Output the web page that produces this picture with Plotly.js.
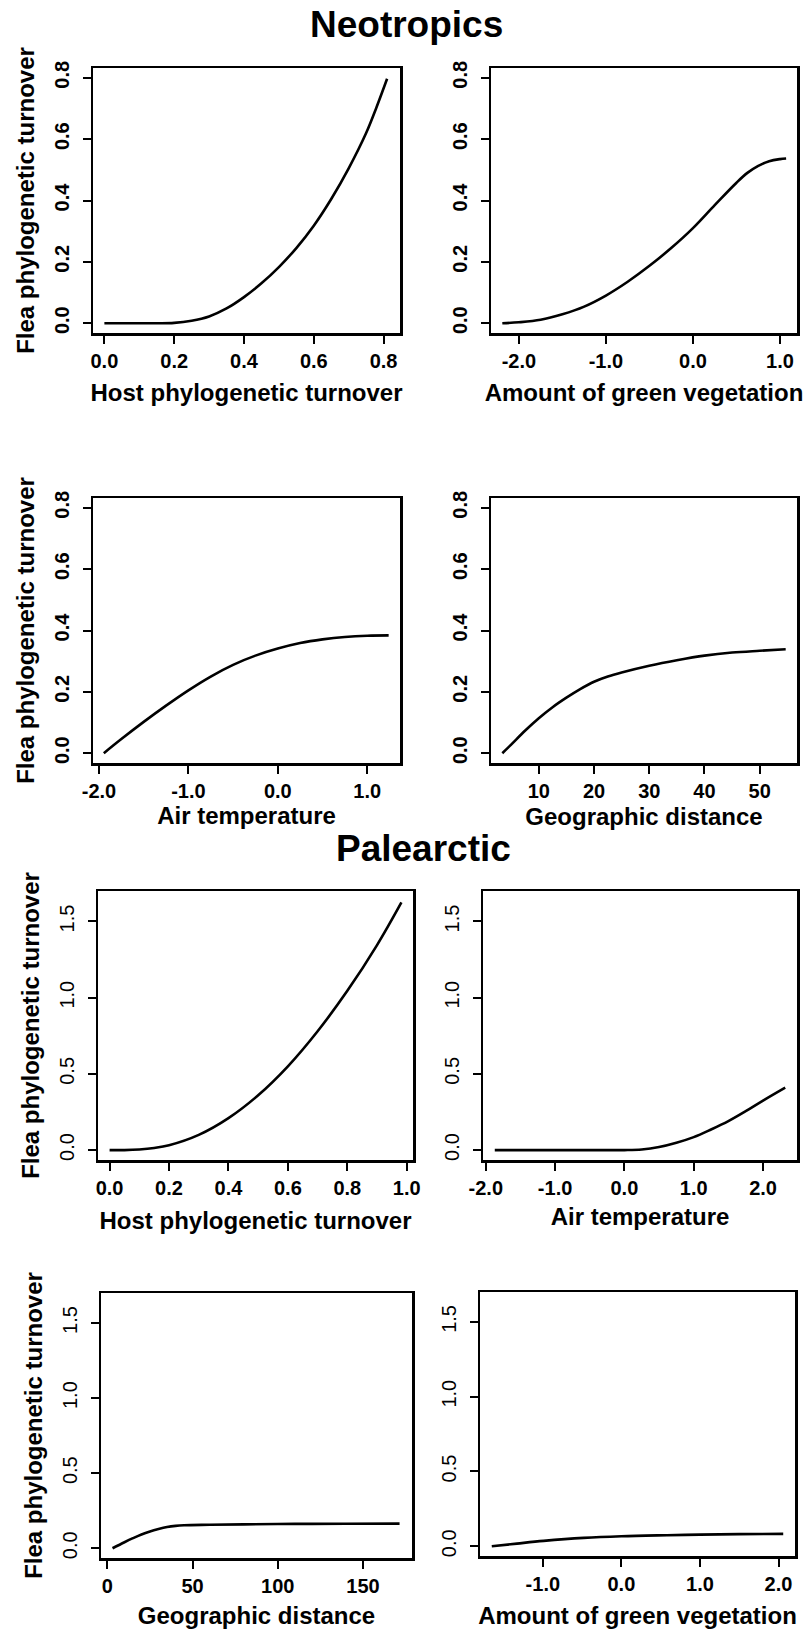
<!DOCTYPE html>
<html>
<head>
<meta charset="utf-8">
<script src="https://cdn.plot.ly/plotly-3.0.1.min.js"></script>
<style>html,body{margin:0;padding:0;background:#fff;overflow:hidden;}#chart{width:812px;height:1629px;}</style>
</head>
<body>
<div id="chart"></div>
<script>
// ---------- Data ----------
// Neotropics
const neoHostX = [0, 0.05, 0.10, 0.15, 0.20, 0.25, 0.30, 0.35, 0.40, 0.45, 0.50, 0.55, 0.60, 0.65, 0.70, 0.75, 0.78, 0.81];
const neoHostY = [0, 0, 0, 0, 0.001, 0.008, 0.022, 0.048, 0.085, 0.130, 0.183, 0.245, 0.318, 0.405, 0.505, 0.620, 0.705, 0.797];

const neoVegX = [-2.19, -2.0, -1.75, -1.5, -1.25, -1.0, -0.75, -0.5, -0.25, 0.0, 0.25, 0.5, 0.625, 0.75, 0.875, 1.0, 1.07];
const neoVegY = [0.0, 0.003, 0.011, 0.029, 0.054, 0.090, 0.135, 0.187, 0.245, 0.310, 0.385, 0.458, 0.490, 0.513, 0.528, 0.535, 0.537];

const neoTempX = [-1.946, -1.75, -1.5, -1.25, -1.0, -0.75, -0.5, -0.25, 0.0, 0.25, 0.5, 0.75, 1.0, 1.24];
const neoTempY = [0.0, 0.046, 0.102, 0.155, 0.205, 0.250, 0.288, 0.318, 0.341, 0.359, 0.371, 0.379, 0.383, 0.384];

const neoDistX = [3.4, 5, 7.5, 10, 12.5, 15, 17.5, 20, 22.5, 25, 30, 35, 40, 45, 50, 54.7];
const neoDistY = [0.0, 0.028, 0.073, 0.114, 0.150, 0.181, 0.209, 0.233, 0.250, 0.263, 0.285, 0.303, 0.318, 0.328, 0.334, 0.339];

// Palearctic
const palHostX = [0.0, 0.05, 0.10, 0.15, 0.20, 0.30, 0.40, 0.50, 0.60, 0.70, 0.80, 0.90, 0.982];
const palHostY = [0.0, 0.0, 0.004, 0.014, 0.032, 0.100, 0.210, 0.360, 0.550, 0.780, 1.045, 1.345, 1.625];

const palTempX = [-1.87, -1.5, -1.0, -0.5, 0.0, 0.25, 0.5, 0.75, 1.0, 1.25, 1.5, 1.75, 2.0, 2.32];
const palTempY = [0.0, 0.0, 0.0, 0.0, 0.0, 0.004, 0.020, 0.048, 0.085, 0.135, 0.190, 0.255, 0.325, 0.410];

const palDistX = [3.0, 10, 15, 20, 25, 30, 35, 40, 45, 60, 80, 110, 140, 171.5];
const palDistY = [0.0, 0.040, 0.067, 0.092, 0.112, 0.128, 0.141, 0.149, 0.153, 0.156, 0.159, 0.162, 0.163, 0.164];

const palVegX = [-1.65, -1.33, -0.99, -0.48, 0.0, 0.58, 1.0, 1.5, 2.06];
const palVegY = [0.0, 0.018, 0.036, 0.056, 0.067, 0.074, 0.078, 0.081, 0.083];

// Tick values / labels
const neoYTicks = [0, 0.2, 0.4, 0.6, 0.8];
const neoYLabels = ["0.0", "0.2", "0.4", "0.6", "0.8"];
const palYTicks = [0, 0.5, 1.0, 1.5];
const palYLabels = ["0.0", "0.5", "1.0", "1.5"];

const neoHostTicks = [0, 0.2, 0.4, 0.6, 0.8];
const neoHostLabels = ["0.0", "0.2", "0.4", "0.6", "0.8"];
const neoVegTicks = [-2, -1, 0, 1];
const neoVegLabels = ["-2.0", "-1.0", "0.0", "1.0"];
const neoTempTicks = [-2, -1, 0, 1];
const neoTempLabels = ["-2.0", "-1.0", "0.0", "1.0"];
const neoDistTicks = [10, 20, 30, 40, 50];
const neoDistLabels = ["10", "20", "30", "40", "50"];

const palHostTicks = [0, 0.2, 0.4, 0.6, 0.8, 1.0];
const palHostLabels = ["0.0", "0.2", "0.4", "0.6", "0.8", "1.0"];
const palTempTicks = [-2, -1, 0, 1, 2];
const palTempLabels = ["-2.0", "-1.0", "0.0", "1.0", "2.0"];
const palDistTicks = [0, 50, 100, 150];
const palDistLabels = ["0", "50", "100", "150"];
const palVegTicks = [-1, 0, 1, 2];
const palVegLabels = ["-1.0", "0.0", "1.0", "2.0"];

const yTitle = "Flea phylogenetic turnover";

// ---------- Layout geometry ----------
const W = 812, H = 1629;
const FONT = "Liberation Sans, Arial, sans-serif";

const panels = [
  {x: neoHostX, y: neoHostY, box: [93, 400, 68, 333],  xr: [-0.0326, 0.847], yr: [-0.032, 0.832], xt: neoHostTicks, xl: neoHostLabels, yt: neoYTicks, yl: neoYLabels, yw: "bold", xtitle: "Host phylogenetic turnover", ytitle: yTitle, xso: 14},
  {x: neoVegX,  y: neoVegY,  box: [491, 797, 68, 333], xr: [-2.32, 1.195],    yr: [-0.032, 0.832], xt: neoVegTicks,  xl: neoVegLabels,  yt: neoYTicks, yl: neoYLabels, yw: "bold", xtitle: "Amount of green vegetation", ytitle: null, xso: 14},
  {x: neoTempX, y: neoTempY, box: [93, 400, 498, 763], xr: [-2.067, 1.367],   yr: [-0.032, 0.832], xt: neoTempTicks, xl: neoTempLabels, yt: neoYTicks, yl: neoYLabels, yw: "bold", xtitle: "Air temperature", ytitle: yTitle, xso: 7},
  {x: neoDistX, y: neoDistY, box: [491, 797, 498, 763], xr: [1.35, 56.75],    yr: [-0.032, 0.832], xt: neoDistTicks, xl: neoDistLabels, yt: neoYTicks, yl: neoYLabels, yw: "bold", xtitle: "Geographic distance", ytitle: null, xso: 8},
  {x: palHostX, y: palHostY, box: [98, 413, 891, 1160], xr: [-0.039, 1.021],  yr: [-0.065, 1.70], xt: palHostTicks, xl: palHostLabels, yt: palYTicks, yl: palYLabels, yw: "normal", xtitle: "Host phylogenetic turnover", ytitle: yTitle, xso: 15},
  {x: palTempX, y: palTempY, box: [483, 797, 891, 1160], xr: [-2.04, 2.49],   yr: [-0.065, 1.70], xt: palTempTicks, xl: palTempLabels, yt: palYTicks, yl: palYLabels, yw: "normal", xtitle: "Air temperature", ytitle: null, xso: 11},
  {x: palDistX, y: palDistY, box: [101, 412, 1293, 1558], xr: [-3.76, 178.8], yr: [-0.065, 1.70], xt: palDistTicks, xl: palDistLabels, yt: palYTicks, yl: palYLabels, yw: "normal", xtitle: "Geographic distance", ytitle: yTitle, xso: 15},
  {x: palVegX,  y: palVegY,  box: [480, 795, 1292, 1556], xr: [-1.80, 2.21],  yr: [-0.065, 1.70], xt: palVegTicks,  xl: palVegLabels,  yt: palYTicks, yl: palYLabels, yw: "normal", xtitle: "Amount of green vegetation", ytitle: null, xso: 19}
];

const data = [];
const layout = {
  width: W, height: H,
  margin: {l: 0, r: 0, t: 0, b: 0},
  paper_bgcolor: "#ffffff",
  plot_bgcolor: "#ffffff",
  showlegend: false,
  font: {family: FONT, color: "#000000", weight: "bold"},
  annotations: [
    {text: "Neotropics", x: 406 / W, y: 1 - 25 / H, xref: "paper", yref: "paper", showarrow: false,
     xanchor: "center", yanchor: "middle", font: {family: FONT, size: 37, weight: "bold", color: "#000"}},
    {text: "Palearctic", x: 423 / W, y: 1 - 848 / H, xref: "paper", yref: "paper", showarrow: false,
     xanchor: "center", yanchor: "middle", font: {family: FONT, size: 37, weight: "bold", color: "#000"}}
  ]
};

panels.forEach((p, i) => {
  const n = i + 1;
  const sfx = n === 1 ? "" : String(n);
  data.push({
    type: "scatter", mode: "lines",
    x: p.x, y: p.y,
    xaxis: "x" + sfx, yaxis: "y" + sfx,
    line: {color: "#000000", width: 2.6, shape: "spline", smoothing: 1},
    hoverinfo: "skip"
  });
  const common = {
    showline: true, mirror: true, linecolor: "#000", linewidth: 2.5,
    ticks: "outside", ticklen: 8, tickwidth: 2, tickcolor: "#000",
    showgrid: false, zeroline: false, fixedrange: true
  };
  layout["xaxis" + sfx] = Object.assign({}, common, {
    domain: [p.box[0] / W, p.box[1] / W],
    range: p.xr, tickmode: "array", tickvals: p.xt, ticktext: p.xl,
    anchor: "y" + sfx,
    tickfont: {family: FONT, size: 20, weight: "bold", color: "#000"},
    title: {text: p.xtitle, standoff: p.xso, font: {family: FONT, size: 24, weight: "bold", color: "#000"}}
  });
  layout["yaxis" + sfx] = Object.assign({}, common, {
    domain: [1 - p.box[3] / H, 1 - p.box[2] / H],
    range: p.yr, tickmode: "array", tickvals: p.yt, ticktext: p.yl,
    tickangle: -90, ticklabelstandoff: 6,
    anchor: "x" + sfx,
    tickfont: {family: FONT, size: 20, weight: p.yw, color: "#000"},
    title: p.ytitle ? {text: p.ytitle, standoff: 9, font: {family: FONT, size: 24, weight: "bold", color: "#000"}} : {text: ""}
  });
});

Plotly.newPlot("chart", data, layout, {staticPlot: true, displayModeBar: false});
</script>
</body>
</html>
